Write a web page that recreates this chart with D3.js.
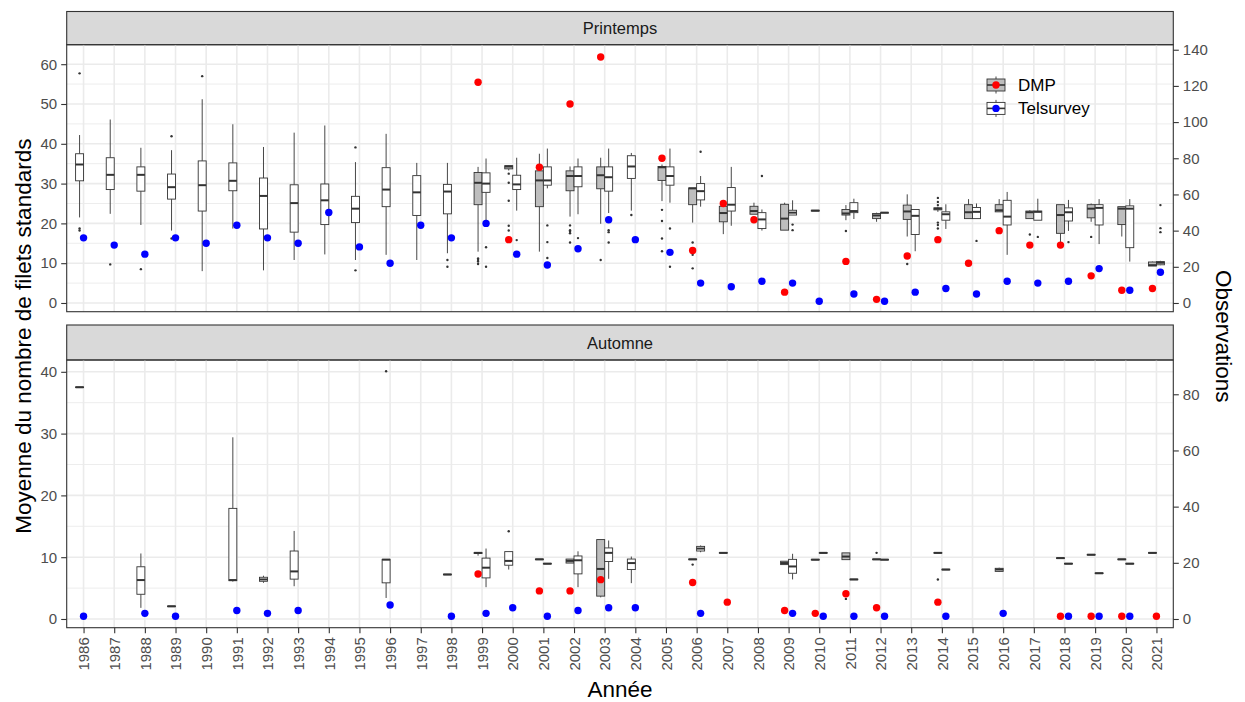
<!DOCTYPE html>
<html>
<head>
<meta charset="utf-8">
<script src="https://cdn.jsdelivr.net/npm/d3@7"></script>
<style>
  body { margin: 0; background: #fff; }
  svg { display: block; }
  text { font-family: "Liberation Sans", Arial, sans-serif; }
</style>
</head>
<body>
<svg id="chart" width="1245" height="702"></svg>
<script>
// ---- data -------------------------------------------------------------
const years = ["1986","1987","1988","1989","1990","1991","1992","1993","1994","1995",
  "1996","1997","1998","1999","2000","2001","2002","2003","2004","2005","2006","2007",
  "2008","2009","2010","2011","2012","2013","2014","2015","2016","2017","2018","2019",
  "2020","2021"];

const groups = ["DMP", "Telsurvey"];
const seasons = ["Printemps", "Automne"];

// boxplot rows: year, lower whisker, Q1, median, Q3, upper whisker
const springDmpBoxes = [
  [1999, 12.9, 24.7, 30.2, 32.8, 34.2], [2000, 33.3, 33.7, 34.3, 34.5, 34.6],
  [2001, 12.9, 24.2, 30.8, 33.2, 37.5], [2002, 21.7, 28.2, 31.9, 33.2, 34.3],
  [2003, 19.9, 28.7, 32.1, 34.2, 36.5], [2005, 25.6, 30.8, 34.1, 34.3, 34.8],
  [2006, 20.2, 24.7, 28.8, 28.9, 28.9], [2007, 17.3, 20.4, 22.6, 24.3, 24.8],
  [2008, 22.3, 22.3, 23.1, 24.3, 25.2], [2009, 18.3, 18.3, 21.2, 24.8, 25.2],
  [2011, 20.8, 22.1, 22.5, 23.5, 24.6], [2012, 20.4, 21.2, 22.0, 22.5, 22.7],
  [2013, 16.7, 21.0, 23.0, 24.6, 27.3], [2014, 22.9, 23.4, 23.7, 23.9, 24.2],
  [2015, 21.2, 21.2, 22.8, 24.7, 26.1], [2016, 22.9, 22.9, 23.3, 24.7, 26.1],
  [2017, 21.2, 21.2, 22.8, 23.1, 23.3], [2018, 14.8, 17.5, 22.1, 24.7, 24.7],
  [2019, 20.4, 21.4, 23.7, 24.7, 25.0], [2020, 16.7, 19.7, 23.7, 24.2, 24.2],
  [2021, 9.3, 9.3, 9.5, 10.3, 10.4]
];
const springTelBoxes = [
  [1986, 21.5, 30.7, 34.8, 37.5, 42.2], [1987, 22.4, 28.5, 32.2, 36.5, 46.1],
  [1988, 19.6, 28.1, 32.2, 34.2, 39.0], [1989, 18.2, 26.1, 29.1, 32.4, 38.4],
  [1990, 8.0, 23.1, 29.6, 35.7, 51.2], [1991, 18.7, 28.2, 30.7, 35.2, 44.9],
  [1992, 8.2, 18.6, 26.9, 31.4, 39.2], [1993, 10.8, 17.8, 25.1, 29.7, 42.8],
  [1994, 12.2, 19.7, 25.8, 29.9, 44.6], [1995, 10.8, 20.2, 23.7, 26.8, 35.4],
  [1996, 12.1, 24.2, 28.5, 34.0, 42.5], [1997, 10.8, 22.0, 27.8, 32.0, 35.2],
  [1998, 12.5, 22.4, 28.0, 29.8, 35.2], [1999, 20.2, 27.8, 30.0, 32.7, 36.3],
  [2000, 23.2, 28.5, 29.8, 32.1, 36.5], [2001, 28.8, 29.6, 30.8, 34.2, 38.8],
  [2002, 22.3, 29.2, 31.9, 34.2, 36.3], [2003, 22.6, 28.1, 31.6, 34.2, 38.8],
  [2004, 23.2, 31.3, 34.3, 37.0, 37.7], [2005, 25.2, 29.6, 31.9, 34.2, 38.8],
  [2006, 24.2, 25.9, 28.1, 30.0, 31.9], [2007, 19.4, 23.1, 24.7, 29.0, 34.2],
  [2008, 18.2, 18.7, 21.0, 22.7, 23.5], [2009, 22.1, 22.1, 22.7, 23.3, 25.8],
  [2010, 23.1, 23.1, 23.2, 23.3, 23.3], [2011, 21.1, 22.7, 23.1, 25.2, 26.2],
  [2012, 22.6, 22.6, 22.7, 22.7, 22.8], [2013, 13.0, 17.2, 21.9, 23.5, 23.5],
  [2014, 18.6, 20.8, 22.3, 22.9, 24.8], [2015, 21.2, 21.2, 22.9, 24.0, 25.0],
  [2016, 12.1, 19.6, 21.7, 25.8, 27.9], [2017, 20.8, 20.8, 22.9, 23.1, 26.2],
  [2018, 18.1, 20.6, 22.8, 23.9, 25.9], [2019, 14.8, 19.6, 23.9, 24.7, 26.1],
  [2020, 10.4, 13.9, 23.7, 24.4, 26.1], [2021, 9.5, 9.6, 10.1, 10.4, 10.6]
];
const springDmpOutliers = [
  [1999, 11.2], [1999, 10.8], [1999, 10.4], [1999, 9.8],
  [2000, 32.5], [2000, 30.2], [2000, 25.7], [2000, 19.4], [2000, 18.2],
  [2002, 19.5], [2002, 18.3], [2002, 17.9], [2002, 17.5], [2002, 15.2],
  [2003, 10.8], [2005, 23.4], [2005, 20.6], [2005, 16.2], [2005, 13.0],
  [2006, 15.2], [2006, 12.1], [2006, 8.7], [2011, 18.1], [2013, 9.8],
  [2014, 26.4], [2014, 25.4], [2014, 24.6], [2014, 20.2], [2014, 19.6], [2014, 18.7],
  [2017, 17.2], [2019, 16.6]
];
const springTelOutliers = [
  [1986, 57.7], [1986, 18.7], [1986, 18.2], [1987, 9.7], [1988, 8.5],
  [1989, 41.9], [1989, 16.2], [1990, 57.0], [1995, 39.1], [1995, 8.2],
  [1998, 10.8], [1998, 9.1], [1999, 14.0], [1999, 9.1], [2000, 15.8],
  [2001, 19.5], [2001, 15.3], [2001, 11.3], [2002, 16.3],
  [2003, 18.3], [2003, 17.8], [2003, 15.2], [2004, 22.1], [2005, 18.7], [2005, 9.1],
  [2006, 38.0], [2008, 31.9], [2009, 19.7], [2009, 18.3], [2015, 15.6],
  [2017, 16.6], [2018, 15.3], [2021, 24.6], [2021, 18.8], [2021, 17.8]
];
// number of observations per year
const springDmpObs = [
  [1999, 122], [2000, 35], [2001, 75], [2002, 110], [2003, 136], [2005, 80],
  [2006, 29], [2007, 55], [2008, 46], [2009, 6], [2011, 23], [2012, 2],
  [2013, 26], [2014, 35], [2015, 22], [2016, 40], [2017, 32], [2018, 32],
  [2019, 15], [2020, 7], [2021, 8]
];
const springTelObs = [
  [1986, 36], [1987, 32], [1988, 27], [1989, 36], [1990, 33], [1991, 43],
  [1992, 36], [1993, 33], [1994, 50], [1995, 31], [1996, 22], [1997, 43],
  [1998, 36], [1999, 44], [2000, 27], [2001, 21], [2002, 30], [2003, 46],
  [2004, 35], [2005, 28], [2006, 11], [2007, 9], [2008, 12], [2009, 11],
  [2010, 1], [2011, 5], [2012, 1], [2013, 6], [2014, 8], [2015, 5],
  [2016, 12], [2017, 11], [2018, 12], [2019, 19], [2020, 7], [2021, 17]
];

const autumnDmpBoxes = [
  [1999, 10.25, 10.6, 10.7, 10.75, 10.75], [2001, 9.6, 9.6, 9.65, 9.7, 9.7],
  [2002, 9.05, 9.05, 9.4, 9.7, 9.7], [2003, 3.5, 3.7, 8.1, 12.85, 12.85],
  [2006, 9.6, 9.6, 9.65, 9.7, 9.7], [2007, 10.65, 10.65, 10.7, 10.75, 10.75],
  [2009, 8.8, 8.8, 9.05, 9.35, 9.35], [2010, 9.55, 9.55, 9.6, 9.65, 9.65],
  [2011, 9.6, 9.6, 10.1, 10.7, 10.7], [2012, 9.6, 9.6, 9.65, 9.7, 9.7],
  [2014, 10.65, 10.65, 10.7, 10.75, 10.75], [2018, 9.8, 9.8, 9.85, 9.9, 9.9],
  [2019, 10.35, 10.35, 10.4, 10.45, 10.45], [2020, 9.6, 9.6, 9.65, 9.7, 9.7],
  [2021, 10.65, 10.65, 10.7, 10.75, 10.75]
];
const autumnTelBoxes = [
  [1986, 37.45, 37.45, 37.5, 37.55, 37.55], [1988, 1.8, 4.0, 6.3, 8.45, 10.6],
  [1989, 2.0, 2.0, 2.05, 2.1, 2.1], [1991, 6.05, 6.2, 6.3, 17.9, 29.4],
  [1992, 5.85, 6.1, 6.4, 6.75, 7.0], [1993, 5.3, 6.45, 7.7, 11.0, 14.25],
  [1996, 3.4, 5.85, 9.6, 9.65, 9.7], [1998, 7.15, 7.15, 7.2, 7.25, 7.25],
  [1999, 5.15, 6.65, 8.3, 9.85, 11.4], [2000, 8.0, 8.7, 9.4, 10.9, 10.9],
  [2001, 8.9, 8.9, 8.95, 9.0, 9.0], [2002, 5.15, 7.3, 9.5, 10.2, 10.95],
  [2003, 6.5, 9.3, 10.7, 11.5, 12.7], [2004, 5.8, 8.0, 9.05, 9.7, 10.1],
  [2006, 10.8, 11.0, 11.4, 11.75, 11.9], [2009, 6.4, 7.4, 8.5, 9.65, 10.55],
  [2010, 10.65, 10.65, 10.7, 10.75, 10.75], [2011, 6.35, 6.35, 6.4, 6.45, 6.45],
  [2012, 9.55, 9.55, 9.6, 9.65, 9.65], [2014, 7.95, 7.95, 8.0, 8.05, 8.05],
  [2016, 7.6, 7.7, 8.0, 8.2, 8.3], [2018, 8.9, 8.9, 8.95, 9.0, 9.0],
  [2019, 7.35, 7.35, 7.4, 7.45, 7.45], [2020, 8.9, 8.9, 8.95, 9.0, 9.0]
];
const autumnDmpOutliers = [[2006, 8.8], [2011, 3.25], [2012, 10.7], [2014, 6.4]];
const autumnTelOutliers = [[1996, 40.1], [2000, 14.2]];
const autumnDmpObs = [
  [1999, 16], [2001, 10], [2002, 10], [2003, 14], [2006, 13], [2007, 6],
  [2009, 3], [2010, 2], [2011, 9], [2012, 4], [2014, 6], [2018, 1],
  [2019, 1], [2020, 1], [2021, 1]
];
const autumnTelObs = [
  [1986, 1], [1988, 2], [1989, 1], [1991, 3], [1992, 2], [1993, 3], [1996, 5],
  [1998, 1], [1999, 2], [2000, 4], [2001, 1], [2002, 3], [2003, 4], [2004, 4],
  [2006, 2], [2009, 2], [2010, 1], [2011, 1], [2012, 1], [2014, 1], [2016, 2],
  [2018, 1], [2019, 1], [2020, 1]
];

// axis breaks
const springLeftTicks = [0, 10, 20, 30, 40, 50, 60];
const springRightTicks = [0, 20, 40, 60, 80, 100, 120, 140];
const autumnLeftTicks = [0, 10, 20, 30, 40];
const autumnRightTicks = [0, 20, 40, 60, 80];

// observations are shown on a secondary axis: obs = mean * 2.2
const obsFactor = 2.2;

// ---- layout -----------------------------------------------------------
const svg = d3.select("#chart");
const plotLeft = 66.7, plotRight = 1173.3;
const x = d3.scalePoint().domain(years).range([plotLeft, plotRight]).padding(0.55);
const step = x.step();
const halfBox = step * 0.13;
const dodge = step * 0.13;

const fills = { DMP: "#bebebe", Telsurvey: "#ffffff" };
const dotColors = { DMP: "#ff0000", Telsurvey: "#0000ff" };
const ink = "#333333";

const panels = [
  { name: seasons[0], stripTop: 11.5, top: 44.7, bottom: 311.7, domain: [-2.19, 64.9],
    left: springLeftTicks, right: springRightTicks,
    boxes: { DMP: springDmpBoxes, Telsurvey: springTelBoxes },
    outliers: { DMP: springDmpOutliers, Telsurvey: springTelOutliers },
    obs: { DMP: springDmpObs, Telsurvey: springTelObs } },
  { name: seasons[1], stripTop: 325, top: 360, bottom: 627.7, domain: [-1.41, 41.91],
    left: autumnLeftTicks, right: autumnRightTicks,
    boxes: { DMP: autumnDmpBoxes, Telsurvey: autumnTelBoxes },
    outliers: { DMP: autumnDmpOutliers, Telsurvey: autumnTelOutliers },
    obs: { DMP: autumnDmpObs, Telsurvey: autumnTelObs } }
];

function drawPanel(p) {
  const y = d3.scaleLinear().domain(p.domain).range([p.bottom, p.top]);
  const y2 = d3.scaleLinear().domain(p.domain.map(v => v * obsFactor)).range([p.bottom, p.top]);
  const g = svg.append("g");

  // strip
  g.append("rect").attr("x", plotLeft).attr("y", p.stripTop)
    .attr("width", plotRight - plotLeft).attr("height", p.top - p.stripTop)
    .attr("fill", "#d9d9d9").attr("stroke", ink).attr("stroke-width", 1.1);
  g.append("text").attr("x", (plotLeft + plotRight) / 2).attr("y", (p.stripTop + p.top) / 2)
    .attr("text-anchor", "middle").attr("dominant-baseline", "central")
    .attr("font-size", 16.5).attr("fill", "#1a1a1a").text(p.name);

  // grid
  const grid = g.append("g");
  const minor = p.left.slice(0, -1).map(v => v + 5).filter(v => v < p.domain[1]);
  grid.selectAll(".minor").data(minor).join("line")
    .attr("x1", plotLeft).attr("x2", plotRight)
    .attr("y1", d => y(d)).attr("y2", d => y(d))
    .attr("stroke", "#ebebeb").attr("stroke-width", 0.9);
  grid.selectAll(".majorY").data(p.left).join("line")
    .attr("x1", plotLeft).attr("x2", plotRight)
    .attr("y1", d => y(d)).attr("y2", d => y(d))
    .attr("stroke", "#ebebeb").attr("stroke-width", 1.6);
  grid.selectAll(".majorX").data(years).join("line")
    .attr("x1", d => x(d)).attr("x2", d => x(d))
    .attr("y1", p.top).attr("y2", p.bottom)
    .attr("stroke", "#ebebeb").attr("stroke-width", 1.6);

  // box positions: dodged when both groups present, otherwise first slot
  const boxYears = {};
  groups.forEach(gr => p.boxes[gr].forEach(r => {
    (boxYears[r[0]] = boxYears[r[0]] || []).push(gr);
  }));
  const boxX = (year, gr) => {
    const c = x(String(year));
    if (boxYears[year].length === 2) return gr === "DMP" ? c - dodge : c + dodge;
    return c - dodge;
  };

  const marks = g.append("g");
  groups.forEach(gr => {
    const rows = p.boxes[gr];
    const bg = marks.append("g");
    // whiskers
    bg.selectAll(".wu").data(rows).join("line")
      .attr("x1", d => boxX(d[0], gr)).attr("x2", d => boxX(d[0], gr))
      .attr("y1", d => y(d[5])).attr("y2", d => y(d[4]))
      .attr("stroke", ink).attr("stroke-width", 0.9);
    bg.selectAll(".wl").data(rows).join("line")
      .attr("x1", d => boxX(d[0], gr)).attr("x2", d => boxX(d[0], gr))
      .attr("y1", d => y(d[2])).attr("y2", d => y(d[1]))
      .attr("stroke", ink).attr("stroke-width", 0.9);
    // boxes
    bg.selectAll("rect").data(rows).join("rect")
      .attr("x", d => boxX(d[0], gr) - halfBox).attr("width", halfBox * 2)
      .attr("y", d => y(d[4])).attr("height", d => Math.max(0.01, y(d[2]) - y(d[4])))
      .attr("fill", fills[gr]).attr("stroke", ink).attr("stroke-width", 0.9);
    // medians
    bg.selectAll(".med").data(rows).join("line")
      .attr("x1", d => boxX(d[0], gr) - halfBox).attr("x2", d => boxX(d[0], gr) + halfBox)
      .attr("y1", d => y(d[3])).attr("y2", d => y(d[3]))
      .attr("stroke", ink).attr("stroke-width", 2);
    // outliers
    bg.selectAll("circle").data(p.outliers[gr]).join("circle")
      .attr("cx", d => boxX(d[0], gr)).attr("cy", d => y(d[1]))
      .attr("r", 1.2).attr("fill", ink);
  });

  // observation counts
  const obsYears = {};
  groups.forEach(gr => p.obs[gr].forEach(r => {
    (obsYears[r[0]] = obsYears[r[0]] || []).push(gr);
  }));
  const obsX = (year, gr) => {
    const c = x(String(year));
    if (obsYears[year].length === 2) return gr === "DMP" ? c - dodge : c + dodge;
    return c;
  };
  groups.forEach(gr => {
    marks.append("g").selectAll("circle").data(p.obs[gr]).join("circle")
      .attr("cx", d => obsX(d[0], gr)).attr("cy", d => y2(d[1]))
      .attr("r", 3.7).attr("fill", dotColors[gr]);
  });

  // border
  g.append("rect").attr("x", plotLeft).attr("y", p.top)
    .attr("width", plotRight - plotLeft).attr("height", p.bottom - p.top)
    .attr("fill", "none").attr("stroke", ink).attr("stroke-width", 1.1);

  // axes
  const la = g.append("g").attr("transform", `translate(${plotLeft},0)`)
    .call(d3.axisLeft(y).tickValues(p.left).tickSize(5.5).tickPadding(4).tickFormat(d3.format("d")));
  const ra = g.append("g").attr("transform", `translate(${plotRight},0)`)
    .call(d3.axisRight(y2).tickValues(p.right).tickSize(5.5).tickPadding(4).tickFormat(d3.format("d")));
  [la, ra].forEach(a => {
    a.select(".domain").remove();
    a.selectAll(".tick line").attr("stroke", ink).attr("stroke-width", 1.1);
    a.selectAll(".tick text").attr("fill", "#4d4d4d").attr("font-size", 15)
      .attr("font-family", "Liberation Sans, Arial, sans-serif");
  });
  return y;
}

panels.forEach(drawPanel);

// x axis under the lower panel
const last = panels[panels.length - 1];
const xa = svg.append("g").attr("transform", `translate(0,${last.bottom})`)
  .call(d3.axisBottom(x).tickSize(5.5).tickPadding(4));
xa.select(".domain").remove();
xa.selectAll(".tick line").attr("stroke", ink).attr("stroke-width", 1.1);
xa.selectAll(".tick text")
  .attr("fill", "#4d4d4d").attr("font-size", 15)
  .attr("font-family", "Liberation Sans, Arial, sans-serif")
  .attr("transform", "rotate(-90)")
  .attr("text-anchor", "end").attr("dy", "0.35em").attr("y", 0).attr("x", -9.5);

// axis titles
const titleSize = 22.5;
const midY = (panels[0].top + last.bottom) / 2;
svg.append("text").attr("x", (plotLeft + plotRight) / 2).attr("y", 697)
  .attr("text-anchor", "middle").attr("font-size", titleSize).attr("fill", "#000").text("Année");
svg.append("text").attr("transform", `translate(31,${midY}) rotate(-90)`)
  .attr("text-anchor", "middle").attr("font-size", titleSize).attr("fill", "#000")
  .text("Moyenne du nombre de filets standards");
svg.append("text").attr("transform", `translate(1216,${midY}) rotate(90)`)
  .attr("text-anchor", "middle").attr("font-size", titleSize).attr("fill", "#000")
  .text("Observations");

// legend
const legend = svg.append("g").attr("transform", "translate(987,73)");
groups.forEach((gr, i) => {
  const k = legend.append("g").attr("transform", `translate(0,${i * 23.4})`);
  const cx = 9, cy = 12;
  k.append("line").attr("x1", cx).attr("x2", cx).attr("y1", cy - 8.5).attr("y2", cy + 8.5)
    .attr("stroke", ink).attr("stroke-width", 0.9);
  k.append("rect").attr("x", 0).attr("y", cy - 6).attr("width", 18).attr("height", 12)
    .attr("fill", fills[gr]).attr("stroke", ink).attr("stroke-width", 0.9);
  k.append("line").attr("x1", 0).attr("x2", 18).attr("y1", cy).attr("y2", cy)
    .attr("stroke", ink).attr("stroke-width", 1.6);
  k.append("circle").attr("cx", cx).attr("cy", cy).attr("r", 3.7).attr("fill", dotColors[gr]);
  k.append("text").attr("x", 31).attr("y", cy).attr("dominant-baseline", "central")
    .attr("font-size", 17).attr("fill", "#000").text(gr);
});
</script>
</body>
</html>
